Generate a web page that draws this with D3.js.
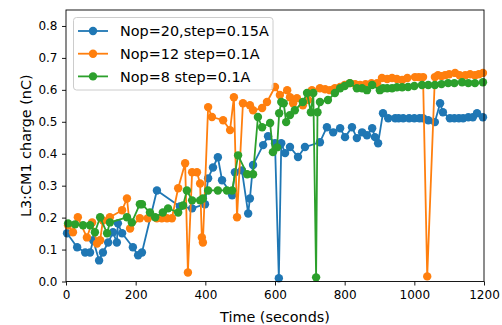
<!DOCTYPE html>
<html>
<head>
<meta charset="utf-8">
<script src="https://cdn.jsdelivr.net/npm/d3@7"></script>
<style>
  body { margin: 0; background: #fff; }
  text { font-family: "DejaVu Sans", sans-serif; }
</style>
</head>
<body>
<svg id="chart"></svg>
<script>
// Series data
const blueTime = [3, 32, 55, 69, 78, 95, 106, 121, 135, 146, 149, 161, 192, 207, 218, 261, 327, 362, 399, 408, 422, 436, 448, 477, 485, 505, 523, 528, 537, 566, 580, 600, 611, 618, 629, 643, 666, 686, 729, 749, 767, 787, 801, 821, 835, 850, 864, 879, 887, 896, 910, 925, 945, 955, 968, 985, 1000, 1015, 1025, 1040, 1059, 1074, 1082, 1102, 1115, 1128, 1140, 1155, 1168, 1180, 1197];
const blueCharge = [0.151, 0.107, 0.091, 0.091, 0.129, 0.066, 0.091, 0.122, 0.154, 0.122, 0.182, 0.151, 0.107, 0.082, 0.091, 0.285, 0.235, 0.229, 0.242, 0.323, 0.357, 0.389, 0.317, 0.270, 0.342, 0.348, 0.213, 0.260, 0.365, 0.427, 0.455, 0.433, 0.010, 0.433, 0.402, 0.421, 0.390, 0.421, 0.436, 0.483, 0.467, 0.480, 0.452, 0.483, 0.449, 0.467, 0.458, 0.480, 0.452, 0.433, 0.527, 0.511, 0.511, 0.511, 0.511, 0.511, 0.511, 0.511, 0.511, 0.505, 0.499, 0.558, 0.530, 0.511, 0.511, 0.511, 0.511, 0.514, 0.514, 0.527, 0.514];

const orangeTime = [6, 20, 34, 60, 75, 89, 98, 106, 126, 161, 175, 184, 212, 235, 261, 275, 290, 304, 322, 342, 350, 362, 376, 385, 390, 393, 408, 419, 451, 471, 482, 491, 508, 528, 537, 563, 577, 600, 614, 635, 643, 652, 663, 680, 695, 706, 729, 744, 758, 772, 787, 800, 815, 830, 844, 860, 877, 893, 907, 922, 936, 950, 965, 980, 1002, 1013, 1025, 1037, 1059, 1068, 1078, 1088, 1100, 1117, 1130, 1146, 1160, 1174, 1185, 1197];
const orangeCharge = [0.176, 0.154, 0.201, 0.138, 0.185, 0.119, 0.129, 0.191, 0.201, 0.223, 0.260, 0.166, 0.198, 0.198, 0.198, 0.198, 0.198, 0.198, 0.292, 0.370, 0.028, 0.342, 0.342, 0.307, 0.138, 0.122, 0.546, 0.515, 0.505, 0.474, 0.577, 0.201, 0.558, 0.552, 0.536, 0.543, 0.562, 0.609, 0.584, 0.599, 0.577, 0.558, 0.574, 0.552, 0.568, 0.599, 0.605, 0.602, 0.599, 0.605, 0.609, 0.615, 0.621, 0.618, 0.615, 0.618, 0.621, 0.621, 0.637, 0.634, 0.637, 0.634, 0.631, 0.637, 0.640, 0.640, 0.640, 0.016, 0.640, 0.646, 0.643, 0.646, 0.649, 0.653, 0.646, 0.646, 0.649, 0.646, 0.649, 0.653];

const greenTime = [6, 26, 49, 69, 83, 98, 118, 126, 175, 189, 212, 218, 241, 256, 278, 293, 322, 336, 347, 362, 385, 393, 408, 436, 462, 477, 494, 520, 537, 551, 563, 586, 594, 606, 612, 618, 625, 632, 643, 657, 680, 692, 703, 710, 718, 722, 729, 752, 772, 787, 800, 815, 835, 850, 864, 879, 901, 910, 922, 936, 950, 965, 982, 1000, 1022, 1040, 1059, 1078, 1097, 1115, 1137, 1155, 1174, 1197];
const greenCharge = [0.182, 0.179, 0.176, 0.176, 0.154, 0.201, 0.151, 0.185, 0.201, 0.185, 0.242, 0.242, 0.216, 0.201, 0.216, 0.229, 0.216, 0.238, 0.285, 0.254, 0.254, 0.260, 0.285, 0.285, 0.285, 0.285, 0.395, 0.336, 0.336, 0.515, 0.483, 0.496, 0.405, 0.420, 0.527, 0.562, 0.558, 0.499, 0.521, 0.536, 0.562, 0.590, 0.530, 0.590, 0.013, 0.530, 0.562, 0.568, 0.590, 0.605, 0.612, 0.621, 0.605, 0.605, 0.599, 0.615, 0.599, 0.605, 0.605, 0.605, 0.608, 0.608, 0.609, 0.612, 0.615, 0.615, 0.615, 0.618, 0.621, 0.621, 0.624, 0.621, 0.621, 0.624];

const seriesNames = ['Nop=20,step=0.15A', 'Nop=12 step=0.1A', 'Nop=8 step=0.1A'];
const xTicks = [0, 200, 400, 600, 800, 1000, 1200];
const yTicks = [0.0, 0.1, 0.2, 0.3, 0.4, 0.5, 0.6, 0.7, 0.8];

// Layout
const WIDTH = 502;
const HEIGHT = 325;
const LEFT = 66;
const RIGHT = 484;
const TOP = 10;
const BOTTOM = 281.5;
const COLORS = ['#1f77b4', '#ff7f0e', '#2ca02c'];
const TICK_FONT = 12;
const LABEL_FONT = 14.4;
const MARKER_R = 4.2;

const series = [
  { name: seriesNames[0], color: COLORS[0], points: blueTime.map((t, i) => [t, blueCharge[i]]) },
  { name: seriesNames[1], color: COLORS[1], points: orangeTime.map((t, i) => [t, orangeCharge[i]]) },
  { name: seriesNames[2], color: COLORS[2], points: greenTime.map((t, i) => [t, greenCharge[i]]) },
];

const svg = d3.select('#chart').attr('width', WIDTH).attr('height', HEIGHT);

const xScale = d3.scaleLinear([0, 1200], [LEFT, RIGHT]);
const yScale = d3.scaleLinear([0, 0.85], [BOTTOM, TOP]);

// Lines and markers
const line = d3.line().x((d) => xScale(d[0])).y((d) => yScale(d[1]));

series.forEach((s) => {
  const g = svg.append('g');
  g.append('path')
    .attr('d', line(s.points))
    .attr('fill', 'none')
    .attr('stroke', s.color)
    .attr('stroke-width', 1.8)
    .attr('stroke-linejoin', 'round');
  g.selectAll('circle')
    .data(s.points)
    .enter()
    .append('circle')
    .attr('cx', (d) => xScale(d[0]))
    .attr('cy', (d) => yScale(d[1]))
    .attr('r', MARKER_R)
    .attr('fill', s.color);
});

// Axes
const xAxis = d3.axisBottom(xScale).tickValues(xTicks).tickSize(4).tickPadding(5).tickFormat(d3.format('d'));
const yAxis = d3.axisLeft(yScale).tickValues(yTicks).tickSize(4).tickPadding(4.5).tickFormat(d3.format('.1f'));

const gx = svg.append('g').attr('transform', `translate(0, ${BOTTOM})`).call(xAxis);
const gy = svg.append('g').attr('transform', `translate(${LEFT}, 0)`).call(yAxis);

[gx, gy].forEach((g) => {
  g.select('.domain').remove();
  g.selectAll('line').attr('stroke', '#000').attr('stroke-width', 0.9);
  g.selectAll('text').attr('font-size', TICK_FONT).attr('fill', '#000').attr('font-family', 'DejaVu Sans');
});

// Frame
svg.append('rect')
  .attr('x', LEFT)
  .attr('y', TOP)
  .attr('width', RIGHT - LEFT)
  .attr('height', BOTTOM - TOP)
  .attr('fill', 'none')
  .attr('stroke', '#000')
  .attr('stroke-width', 0.9);

// Axis labels
svg.append('text')
  .attr('x', (LEFT + RIGHT) / 2)
  .attr('y', 322)
  .attr('text-anchor', 'middle')
  .attr('font-size', LABEL_FONT)
  .text('Time (seconds)');

svg.append('text')
  .attr('transform', `translate(30.5, ${(TOP + BOTTOM) / 2}) rotate(-90)`)
  .attr('text-anchor', 'middle')
  .attr('font-size', LABEL_FONT)
  .text('L3:CM1 charge (nC)');

// Legend
const legend = svg.append('g');
legend.append('rect')
  .attr('x', 73.5)
  .attr('y', 17.5)
  .attr('width', 199.5)
  .attr('height', 72.5)
  .attr('rx', 3)
  .attr('fill', 'rgba(255,255,255,0.8)')
  .attr('stroke', '#cccccc')
  .attr('stroke-width', 1);

series.forEach((s, i) => {
  const y = 31 + i * 22.7;
  legend.append('line')
    .attr('x1', 78).attr('x2', 108)
    .attr('y1', y).attr('y2', y)
    .attr('stroke', s.color)
    .attr('stroke-width', 1.8);
  legend.append('circle')
    .attr('cx', 93).attr('cy', y).attr('r', MARKER_R)
    .attr('fill', s.color);
  legend.append('text')
    .attr('x', 120)
    .attr('y', y + 5.2)
    .attr('font-size', LABEL_FONT)
    .text(s.name);
});
</script>
</body>
</html>
